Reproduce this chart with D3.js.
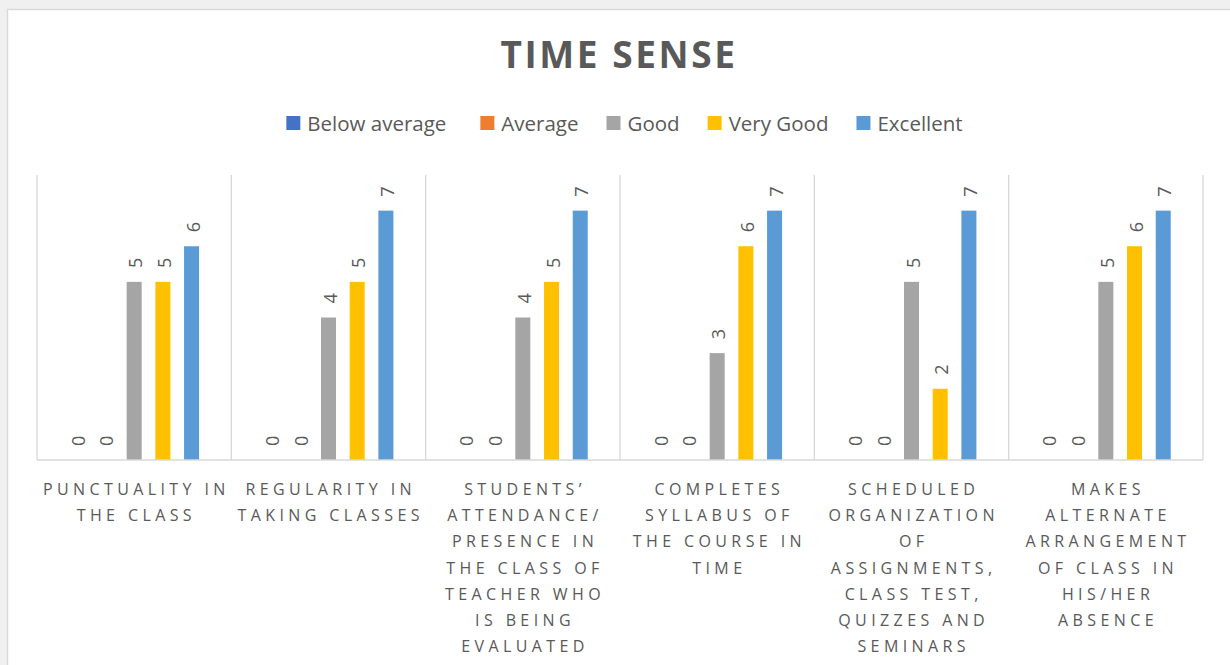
<!DOCTYPE html>
<html>
<head>
<meta charset="utf-8">
<script src="https://cdn.jsdelivr.net/npm/d3@7"></script>
<style>
  html, body { margin: 0; padding: 0; background: #f0f0f0; }
  svg { display: block; }
  text { font-family: "Open Sans", "Noto Sans", sans-serif; fill: #595959; }
</style>
</head>
<body>
<svg id="chart" width="1230" height="665"></svg>
<script>
// Criteria (line breaks as shown under each group)
const categories = [
  "PUNCTUALITY IN\nTHE CLASS",
  "REGULARITY IN\nTAKING CLASSES",
  "STUDENTS’\nATTENDANCE/\nPRESENCE IN\nTHE CLASS OF\nTEACHER WHO\nIS BEING\nEVALUATED",
  "COMPLETES\nSYLLABUS OF\nTHE COURSE IN\nTIME",
  "SCHEDULED\nORGANIZATION\nOF\nASSIGNMENTS,\nCLASS TEST,\nQUIZZES AND\nSEMINARS",
  "MAKES\nALTERNATE\nARRANGEMENT\nOF CLASS IN\nHIS/HER\nABSENCE"
];

const seriesNames = ["Below average", "Average", "Good", "Very Good", "Excellent"];
const seriesColors = ["#4472C4", "#ED7D31", "#A5A5A5", "#FFC000", "#5B9BD5"];

// Counts per rating, one array per series (same order as categories)
const belowAverage = [0, 0, 0, 0, 0, 0];
const average      = [0, 0, 0, 0, 0, 0];
const good         = [5, 4, 4, 3, 5, 5];
const veryGood     = [5, 5, 5, 6, 2, 6];
const excellent    = [6, 7, 7, 7, 7, 7];

const yTicks = [0, 1, 2, 3, 4, 5, 6, 7, 8];

const seriesValues = [belowAverage, average, good, veryGood, excellent];

const svg = d3.select("#chart");

// Chart frame
svg.append("rect")
  .attr("x", 7.5).attr("y", 9.5)
  .attr("width", 1240).attr("height", 700)
  .attr("fill", "#ffffff")
  .attr("stroke", "#d9d9d9")
  .attr("stroke-width", 1.5);

const plot = { left: 37, right: 1203, top: 175, bottom: 460 };

const x0 = d3.scaleBand()
  .domain(d3.range(categories.length))
  .range([plot.left, plot.right]);

const x1 = d3.scaleBand()
  .domain(seriesNames)
  .range([0, x0.bandwidth()])
  .paddingInner(0.477)
  .paddingOuter(1.124);

const y = d3.scaleLinear()
  .domain([d3.min(yTicks), d3.max(yTicks)])
  .range([plot.bottom, plot.top]);

// Vertical separators between groups
const bounds = x0.domain().map(i => x0(i)).concat([plot.right]);
svg.append("g")
  .selectAll("line")
  .data(bounds)
  .join("line")
  .attr("x1", d => d).attr("x2", d => d)
  .attr("y1", y(d3.max(yTicks))).attr("y2", y(0))
  .attr("stroke", "#d9d9d9")
  .attr("stroke-width", 1.3);

// Bars
const groups = svg.append("g")
  .selectAll("g")
  .data(categories.map((c, i) => ({ c, i })))
  .join("g")
  .attr("transform", d => `translate(${x0(d.i)},0)`);

groups.selectAll("rect")
  .data(d => seriesNames.map((s, k) => ({ s, k, v: seriesValues[k][d.i] })))
  .join("rect")
  .attr("x", d => x1(d.s))
  .attr("width", x1.bandwidth())
  .attr("y", d => y(d.v))
  .attr("height", d => y(0) - y(d.v))
  .attr("fill", d => seriesColors[d.k]);

// Value labels, rotated to read upward
groups.selectAll("text.val")
  .data(d => seriesNames.map((s, k) => ({ s, k, v: seriesValues[k][d.i] })))
  .join("text")
  .attr("class", "val")
  .attr("transform", d => `translate(${x1(d.s) + x1.bandwidth() / 2 + 1},${y(d.v) - 14}) rotate(-90)`)
  .attr("text-anchor", "start")
  .attr("dominant-baseline", "central")
  .style("font-size", "18px")
  .text(d => d.v);

// Baseline
svg.append("line")
  .attr("x1", plot.left).attr("x2", plot.right)
  .attr("y1", y(0)).attr("y2", y(0))
  .attr("stroke", "#d9d9d9")
  .attr("stroke-width", 1.5);

// Category labels
const catSpacing = 4.4;
const catLabels = svg.append("g")
  .selectAll("text")
  .data(categories.map((c, i) => ({ lines: c.split("\n"), i })))
  .join("text")
  .attr("text-anchor", "middle")
  .style("font-size", "16px")
  .style("letter-spacing", catSpacing + "px");

catLabels.selectAll("tspan")
  .data(d => d.lines.map(l => ({ l, i: d.i })))
  .join("tspan")
  .attr("x", d => x0(d.i) + x0.bandwidth() / 2 + catSpacing / 2)
  .attr("y", (d, j) => 495 + j * 26.2)
  .text(d => d.l);

// Title
svg.append("text")
  .attr("x", 619)
  .attr("y", 68)
  .attr("text-anchor", "middle")
  .style("font-size", "37px")
  .style("font-weight", "700")
  .style("letter-spacing", "2.6px")
  .text("TIME SENSE");

// Legend
const legend = svg.append("g");
const item = legend.selectAll("g")
  .data(seriesNames.map((s, k) => ({ s, k })))
  .join("g");
item.append("rect")
  .attr("width", 14).attr("height", 14)
  .attr("y", 116)
  .attr("fill", d => seriesColors[d.k]);
item.append("text")
  .attr("x", 21)
  .attr("y", 131)
  .style("font-size", "20.5px")
  .text(d => d.s);

let cursor = 0;
const gaps = [34, 28, 28, 28, 0];
item.each(function (d, k) {
  const w = d3.select(this).select("text").node().getComputedTextLength();
  d3.select(this).attr("transform", `translate(${cursor},0)`);
  cursor += 21 + w + gaps[k];
});
legend.attr("transform", `translate(${624.5 - cursor / 2},0)`);
</script>
</body>
</html>
